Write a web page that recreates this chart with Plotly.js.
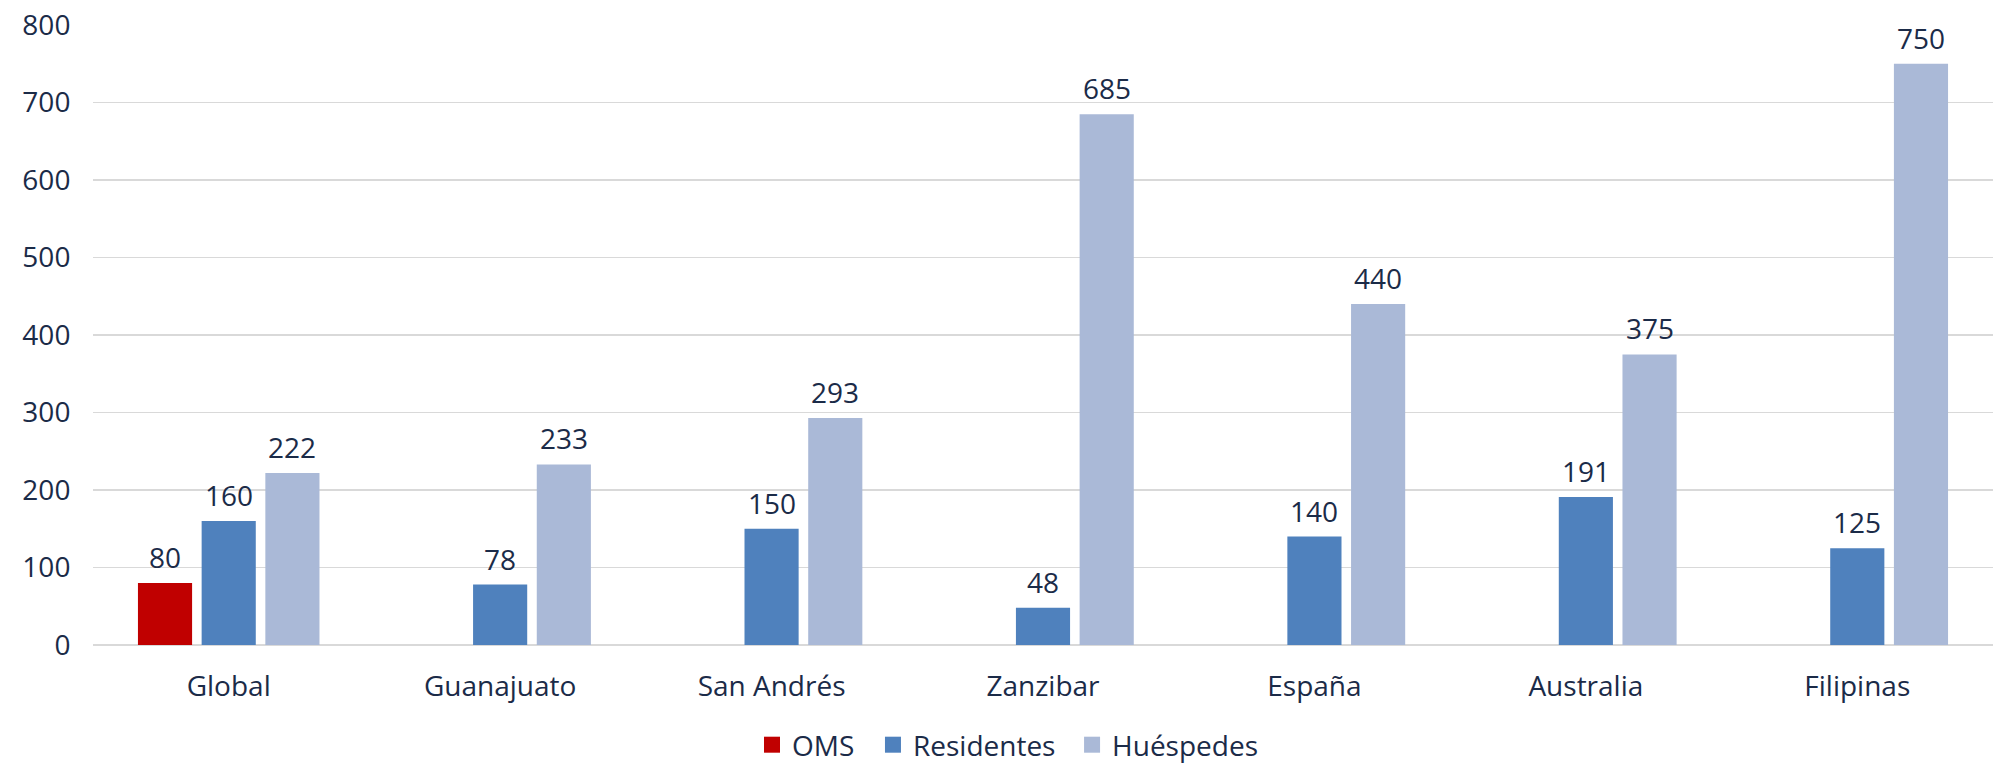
<!DOCTYPE html>
<html>
<head>
<meta charset="utf-8">
<script src="https://cdn.plot.ly/plotly-3.0.1.min.js"></script>
<style>html,body{margin:0;padding:0;background:#fff;}#chart{width:1999px;height:770px;}</style>
</head>
<body>
<div id="chart"></div>
<script>
const categories = ["Global", "Guanajuato", "San Andrés", "Zanzibar", "España", "Australia", "Filipinas"];
const oms = [80, null, null, null, null, null, null];
const residentes = [160, 78, 150, 48, 140, 191, 125];
const huespedes = [222, 233, 293, 685, 440, 375, 750];
const seriesNames = ["OMS", "Residentes", "Huéspedes"];
const colors = ["#C00000", "#4F81BD", "#AAB9D7"];
const yTicks = [0, 100, 200, 300, 400, 500, 600, 700, 800];

const textColor = "#1B2B48";
const fontFam = "'Open Sans', sans-serif";
const fs = 28;
const bargap = 0.296;
const legendIds = ["legend", "legend2", "legend3"];
const legendX = [0.3762, 0.4367, 0.5363];

const allSeries = [oms, residentes, huespedes];
const data = allSeries.map((vals, k) => ({
  type: "bar", name: seriesNames[k], x: categories, y: vals,
  marker: {color: colors[k]}, hoverinfo: "skip", showlegend: false
}));
// legend entries (square swatches), one legend per series so each can be placed
seriesNames.forEach((n, k) => {
  data.push({
    type: "scatter", mode: "markers", name: n, x: [null], y: [null],
    marker: {symbol: "square", size: 18, color: colors[k]},
    legend: legendIds[k], showlegend: true, hoverinfo: "skip"
  });
});

// value labels placed above each bar, from the same arrays
const slot = (1 - bargap) / allSeries.length;
const annotations = [];
allSeries.forEach((vals, k) => {
  vals.forEach((v, i) => {
    if (v === null) return;
    annotations.push({
      xref: "x", yref: "y", x: i + (k - (allSeries.length - 1) / 2) * slot, y: v,
      text: String(v), showarrow: false, yanchor: "bottom", xanchor: "center",
      yshift: 5, font: {family: fontFam, size: fs, color: textColor}
    });
  });
});

const layout = {
  width: 1999, height: 770,
  margin: {l: 93, r: 6, t: 25, b: 125},
  paper_bgcolor: "#fff", plot_bgcolor: "#fff",
  barmode: "group", bargap: bargap, bargroupgap: 0.15,
  font: {family: fontFam, size: fs, color: textColor},
  annotations: annotations,
  xaxis: {
    type: "category", showgrid: false, zeroline: false, showline: false, automargin: false,
    ticks: "outside", ticklen: 16, tickcolor: "rgba(0,0,0,0)",
    tickfont: {family: fontFam, size: fs, color: textColor}
  },
  yaxis: {
    range: [0, 800], tickvals: yTicks, ticktext: yTicks.map(String), automargin: false,
    showgrid: true, gridcolor: "#D9D9D9", gridwidth: 1.4,
    zeroline: true, zerolinecolor: "#D9D9D9", zerolinewidth: 1.4,
    showline: false, ticks: "outside", ticklen: 16, tickcolor: "rgba(0,0,0,0)",
    tickfont: {family: fontFam, size: fs, color: textColor}
  },
  showlegend: true
};
legendIds.forEach((id, k) => {
  layout[id] = {
    orientation: "h", xref: "container", yref: "container",
    x: legendX[k], xanchor: "left", y: 0.0, yanchor: "bottom",
    font: {family: fontFam, size: fs, color: textColor},
    itemsizing: "trace", itemwidth: 30, bgcolor: "rgba(0,0,0,0)"
  };
});
Plotly.newPlot("chart", data, layout, {displayModeBar: false, staticPlot: true});
</script>
</body>
</html>
